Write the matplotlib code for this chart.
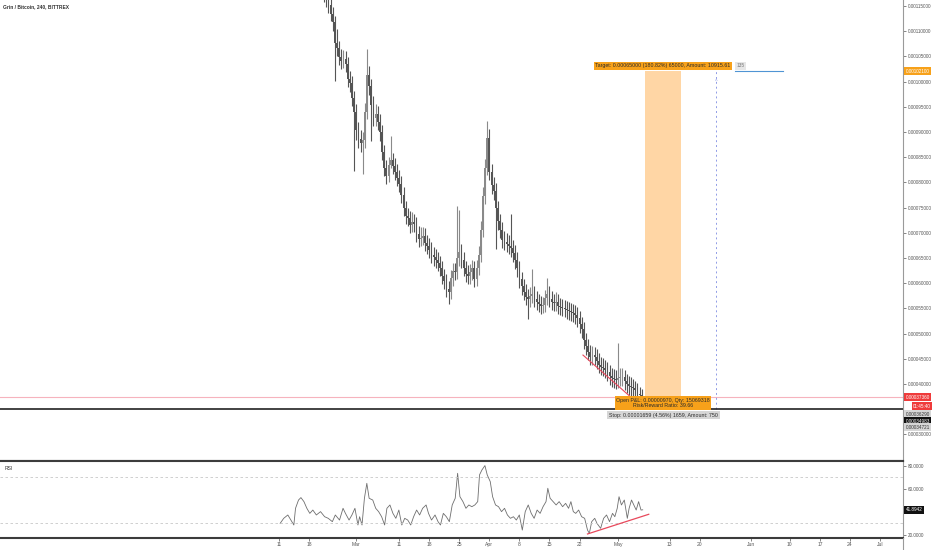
import numpy as np
import pandas as pd
import matplotlib
matplotlib.use("Agg")
import matplotlib.pyplot as plt
import matplotlib.transforms as mtrans
from matplotlib.ticker import FuncFormatter

plt.rcParams['font.family'] = ['Liberation Sans Narrow', 'Liberation Sans', 'DejaVu Sans']

base = pd.Timestamp("2019-02-11")     # jour 0 de l'axe x

# -----------------------------------------------------------------------------
# bougies 12h a partir du 21 fev 2019 (jour 10), prix en satoshis
bar_start = 10.0
bar_step = 0.5
first_open = 119500
closes = [118200, 117200, 116400, 115200, 113400, 111800, 107700, 106700, 104900, 104100,
          104500, 103500, 100500, 99700, 96700, 94000, 90400, 88600, 87800, 88400,
          94000, 101300, 99100, 95400, 92800, 93600, 92000, 90000, 86000, 82900,
          81300, 83500, 84400, 83300, 82100, 80900, 79700, 77500, 74900, 73300,
          72900, 71500, 72100, 71700, 69800, 68800, 69000, 69400, 68000, 67400,
          66600, 65600, 65200, 64600, 64000, 63000, 61400, 60400, 58900, 58300,
          61000, 62400, 62200, 65000, 66200, 64600, 63000, 61800, 61400, 62200,
          63000, 60800, 63000, 65600, 70600, 77300, 82900, 88800, 82100, 79500,
          78300, 74900, 72300, 70600, 68600, 68200, 67800, 67400, 67000, 66000,
          64600, 63000, 60800, 59400, 58300, 57300, 56900, 57500, 57900, 56900,
          56300, 55900, 55500, 55700, 57100, 57900, 56900, 56300, 56100, 56300,
          55500, 55300, 55100, 54900, 54700, 54500, 54300, 54100, 53700, 53100,
          51900, 50900, 48700, 47500, 46400, 45400, 45800, 45400, 44600, 43800,
          43400, 43200, 42800, 42400, 41600, 41200, 41000, 40800, 41200, 41400,
          41400, 40600, 40000, 39600, 39400, 39200, 38800, 38000, 37800, 37360]
highs = [120800, 119700, 118700, 117700, 116600, 114800, 113100, 110400, 108100, 106500,
         106200, 106000, 104800, 102100, 101100, 98200, 95600, 92000, 90300, 90100,
         95700, 106500, 103000, 100600, 97100, 95600, 95100, 93600, 91400, 87500,
         84400, 85100, 89200, 85900, 84800, 83600, 82400, 81200, 79000, 76400,
         75000, 74400, 74200, 73700, 73200, 71300, 71200, 71100, 70900, 69500,
         68900, 68100, 67200, 66800, 66100, 65500, 64400, 62900, 61800, 60500,
         62600, 64000, 64100, 75300, 74600, 67800, 66100, 64500, 63600, 63900,
         64600, 64400, 64600, 67300, 72300, 79000, 84600, 92200, 90500, 83700,
         81100, 79800, 76400, 73800, 72100, 70300, 69900, 69500, 73700, 68600,
         67600, 66100, 64500, 62300, 60900, 59800, 58900, 59200, 62800, 59400,
         58400, 57800, 57400, 57300, 58700, 61000, 59400, 58400, 57900, 58200,
         57800, 57000, 56800, 56700, 56400, 56200, 56000, 55800, 55600, 55200,
         54500, 53300, 52300, 50200, 49000, 47800, 47600, 47400, 46900, 46100,
         45400, 45100, 44700, 44300, 43800, 43100, 42900, 42700, 48100, 43100,
         43200, 42800, 42000, 41600, 41300, 41000, 40700, 40200, 39400, 39000]
lows = [116700, 115800, 114900, 113700, 112000, 110100, 100100, 105100, 103300, 102500,
        102600, 101900, 99000, 98000, 95100, 82200, 88500, 86800, 86000, 81700,
        86900, 92500, 97400, 88200, 91100, 91200, 90300, 88300, 84400, 81200,
        79700, 80000, 82800, 81700, 80500, 79300, 78100, 75900, 73300, 71700,
        71300, 69900, 70100, 70100, 68200, 67200, 67300, 67600, 66400, 65800,
        65000, 64000, 63500, 63000, 62400, 61400, 59800, 58800, 57300, 55900,
        56800, 59500, 60600, 60800, 63400, 63000, 61400, 60200, 59800, 59900,
        60700, 59200, 59500, 61600, 64200, 69200, 75700, 81400, 80400, 77800,
        76600, 66800, 70600, 68900, 66900, 66500, 66100, 65700, 65300, 64300,
        62900, 61300, 59100, 57700, 56600, 55600, 52900, 55200, 56000, 55200,
        54600, 54200, 53800, 54000, 54200, 55600, 55200, 54600, 54400, 54500,
        53800, 53600, 53400, 53200, 53000, 52800, 52600, 52400, 52000, 51400,
        50200, 49200, 47000, 45800, 44700, 43700, 43800, 43700, 42900, 42100,
        41700, 41500, 41100, 40700, 39900, 39500, 39300, 39100, 39300, 39700,
        39700, 38900, 38300, 37900, 37700, 37500, 37100, 36300, 36300, 36100]

# RSI (jours depuis le 11 fev)
rsi_days = [0.26, 1.09, 2.05, 2.75, 3.45, 3.84, 4.54, 5.10, 5.80, 6.48,
            7.17, 7.87, 8.69, 9.67, 10.62, 11.46, 12.42, 13.11, 14.09, 14.91,
            15.47, 16.31, 16.98, 17.68, 18.38, 18.77, 19.33, 19.89, 20.45, 20.99,
            21.83, 22.52, 23.20, 23.90, 24.60, 25.13, 25.83, 26.53, 27.21, 27.91,
            28.60, 29.28, 29.98, 30.68, 31.35, 32.05, 32.75, 33.45, 34.26, 34.82,
            35.52, 36.34, 37.04, 37.60, 38.27, 38.97, 39.67, 40.34, 41.04, 41.60,
            42.14, 42.84, 43.54, 44.21, 44.91, 45.61, 46.28, 46.70, 47.26, 47.96,
            48.50, 49.20, 49.75, 50.43, 51.13, 51.83, 52.53, 53.20, 53.90, 54.60,
            55.28, 55.97, 56.67, 57.35, 58.05, 58.75, 59.42, 60.12, 60.82, 61.50,
            62.19, 62.61, 63.15, 63.85, 64.55, 65.25, 66.06, 66.76, 67.44, 67.99,
            68.55, 69.11, 69.79, 70.49, 71.19, 71.86, 72.28, 72.84, 73.54, 74.07,
            74.91, 75.61, 76.29, 76.99, 77.68, 78.22, 78.78, 79.20, 79.76, 80.43,
            81.13, 81.55, 82.11, 82.65, 83.20, 83.76, 84.32, 84.72]
rsi_vals = [30.1, 34.5, 37.4, 33.0, 28.7, 43.2, 50.4, 52.5, 49.0, 43.2,
            38.8, 41.7, 37.4, 40.3, 35.9, 34.5, 31.6, 37.4, 33.0, 43.2,
            38.8, 33.0, 37.4, 43.2, 28.7, 35.9, 28.7, 51.9, 64.9, 51.9,
            50.4, 43.2, 40.3, 35.9, 28.7, 43.2, 46.1, 38.8, 34.5, 41.7,
            28.7, 34.5, 33.0, 28.7, 35.9, 41.7, 37.4, 43.2, 46.1, 38.8,
            33.0, 37.4, 31.6, 28.7, 38.8, 35.9, 31.6, 46.1, 51.9, 73.6,
            53.3, 49.0, 43.2, 46.1, 44.6, 46.1, 49.0, 72.2, 76.5, 80.3,
            72.2, 66.4, 53.3, 46.1, 44.6, 40.3, 43.2, 37.4, 34.5, 35.9,
            33.0, 37.4, 24.3, 40.3, 46.1, 38.8, 34.5, 41.7, 38.8, 44.6,
            49.0, 60.6, 51.9, 49.0, 46.1, 49.0, 44.6, 47.5, 43.2, 49.0,
            40.3, 38.8, 41.7, 35.9, 34.5, 24.3, 21.4, 31.6, 34.5, 30.1,
            25.8, 34.5, 37.4, 31.6, 38.8, 35.9, 43.2, 53.3, 46.1, 50.4,
            34.5, 43.2, 50.4, 46.1, 41.7, 49.0, 41.7, 41.9]

tick_dates = ["2019-02-11", "2019-02-18", "2019-03-01", "2019-03-11", "2019-03-18",
              "2019-03-25", "2019-04-01", "2019-04-08", "2019-04-15", "2019-04-22",
              "2019-05-01", "2019-05-13", "2019-05-20", "2019-06-01", "2019-06-10",
              "2019-06-17", "2019-06-24", "2019-07-01"]
tick_labels = ["11", "18", "Mar", "11", "18", "25", "Apr", "8", "15", "22",
               "May", "13", "20", "Jun", "10", "17", "24", "Jul"]

# outil "long position" + lignes dessinees
target_price = 0.00102100
last_price = 0.00037360
entry_price = 0.00036290
hline_price = 0.00034983
stop_price = 0.00034721
rsi_last = 41.8942

# -----------------------------------------------------------------------------
W, H = 932, 550
FS = 3.3          # taille des petits textes
fig = plt.figure(figsize=(W / 100, H / 100), dpi=100)
ax = fig.add_axes([0, 89 / H, 903 / W, 461 / H])
ax_rsi = fig.add_axes([0, 12 / H, 903 / W, 77 / H], sharex=ax)

# bougies
c = np.array(closes) * 1e-8
o = np.r_[first_open, closes[:-1]] * 1e-8
hi = np.array(highs) * 1e-8
lo = np.array(lows) * 1e-8
xd = bar_start + bar_step * np.arange(len(c))
col = np.where(c >= o, '#8a8a8a', '#555555')
ax.vlines(xd, lo, hi, colors=col, lw=0.8, zorder=3)
ax.bar(xd, np.maximum(np.abs(c - o), 1e-6), bottom=np.minimum(o, c), width=0.42,
       color=col, lw=0, zorder=3)

ax.set_xlim(-65.0, 145.35)
ax.set_ylim(0.0002473, 0.0011619)

# lignes horizontales
ax.axhline(last_price, color='#f6b3bd', lw=0.8, zorder=2)
ax.axhline(hline_price, color='#222222', lw=1.2, zorder=4)

# zone objectif (orange)
ax.fill_between([85.25, 93.64], entry_price, target_price, color='#ffd6a5', lw=0, zorder=1)
ax.plot([106.2, 117.4], [target_price, target_price], color='#4f94d4', lw=0.8, zorder=2)
ax.plot([101.8, 101.8], [hline_price, target_price], color='#8f9be6', lw=0.7,
        ls=(0, (2, 3)), zorder=2)
ax.text(101.8, 0.00100, '^', color='#8f9be6', fontsize=4, ha='center', va='center')

# ligne de tendance rouge
ax.plot([70.8, 82.2], [0.0004575, 0.0003722], color='#e8495c', lw=0.8, zorder=4)

# etiquettes de l'outil de position
ax.text(73.6, 0.001031, 'Target: 0.00065000 (180.82%) 65000, Amount: 10915.61',
        fontsize=3.8, color='#2a2a2a', ha='left', va='center', zorder=6,
        bbox=dict(boxstyle='square,pad=0.25', fc='#f7a11a', ec='none'))
ax.text(106.6, 0.001031, '135', fontsize=3.4, color='#777777', ha='left', va='center',
        zorder=6, bbox=dict(boxstyle='square,pad=0.25', fc='#e6e6e6', ec='none'))
ax.text(89.45, 0.0003623, 'Open P&L: 0.00000970, Qty: 15069318\nRisk/Reward Ratio: 39.66',
        fontsize=3.8, color='#2a2a2a', ha='center', va='center', linespacing=1.0,
        zorder=6, bbox=dict(boxstyle='square,pad=0.3', fc='#f7a11a', ec='none'))
ax.text(89.56, 0.0003385, 'Stop: 0.00001659 (4.56%) 1659, Amount: 750',
        fontsize=3.8, color='#2a2a2a', ha='center', va='center', zorder=6,
        bbox=dict(boxstyle='square,pad=0.3', fc='#d6d6d6', ec='none'))

# axe des prix a droite
price_ticks = [0.00030] + list(np.arange(40, 116, 5) * 1e-5)
ax.yaxis.tick_right()
ax.set_yticks(price_ticks)
ax.yaxis.set_major_formatter(FuncFormatter(lambda v, p: f"{v:.8f}"))
ax.tick_params(axis='y', direction='out', length=2, width=0.5, colors='#555555',
               labelsize=FS, pad=1.2)
ax.tick_params(axis='x', bottom=False, labelbottom=False)
for s in ['top', 'left']:
    ax.spines[s].set_visible(False)
ax.spines['right'].set_color('#9a9a9a')
ax.spines['right'].set_linewidth(0.8)
ax.spines['bottom'].set_color('#3c3c3c')
ax.spines['bottom'].set_linewidth(1.5)

# etiquettes colorees sur l'axe
trp = mtrans.blended_transform_factory(ax.transAxes, ax.transData)
def axis_tag(a, tr, y, txt, fc, tc, x=1.003):
    a.text(x, y, txt, transform=tr, fontsize=FS, color=tc, ha='left', va='center',
           zorder=10, clip_on=False,
           bbox=dict(boxstyle='square,pad=0.3', fc=fc, ec='none'))

axis_tag(ax, trp, target_price, f"{target_price:.8f}", '#f7a11a', 'white')
axis_tag(ax, trp, last_price, f"{last_price:.8f}", '#ef3b3b', 'white')
axis_tag(ax, trp, 0.0003564, '01:45:40', '#ef3b3b', 'white', x=1.011)
axis_tag(ax, trp, 0.0003405, f"{entry_price:.8f}", '#d6d6d6', '#333333')
axis_tag(ax, trp, 0.0003266, f"{hline_price:.8f}", '#111111', 'white')
axis_tag(ax, trp, 0.0003147, f"{stop_price:.8f}", '#d6d6d6', '#333333')

# -----------------------------------------------------------------------------
# RSI
ax_rsi.plot(rsi_days, rsi_vals, color='#6e6e6e', lw=0.6)
ax_rsi.axhline(70, color='#c8c8c8', lw=0.6, ls=(0, (3, 3)))
ax_rsi.axhline(30, color='#c8c8c8', lw=0.6, ls=(0, (3, 3)))
ax_rsi.plot([71.86, 86.12], [20.9, 38.0], color='#e8495c', lw=0.9)
ax_rsi.set_ylim(17.4, 84.3)
ax_rsi.yaxis.tick_right()
ax_rsi.set_yticks([20, 60, 80])
ax_rsi.yaxis.set_major_formatter(FuncFormatter(lambda v, p: f"{v:.4f}"))
ax_rsi.tick_params(axis='y', direction='out', length=2, width=0.5, colors='#555555',
                   labelsize=FS, pad=1.2)
tick_x = [(pd.Timestamp(t) - base).days for t in tick_dates]
ax_rsi.set_xticks(tick_x)
ax_rsi.set_xticklabels(tick_labels)
ax_rsi.tick_params(axis='x', direction='out', length=2, width=0.5, colors='#555555',
                   labelsize=3.6, pad=1)
ax_rsi.spines['left'].set_visible(False)
ax_rsi.spines['right'].set_color('#9a9a9a')
ax_rsi.spines['right'].set_linewidth(0.8)
for s in ['top', 'bottom']:
    ax_rsi.spines[s].set_color('#3c3c3c')
    ax_rsi.spines[s].set_linewidth(1.5)

trr = mtrans.blended_transform_factory(ax_rsi.transAxes, ax_rsi.transData)
axis_tag(ax_rsi, trr, rsi_last, f"{rsi_last:.4f}", '#111111', 'white')

fig.text(5 / W, 1 - 468 / H, 'RSI', fontsize=3.6, color='#333333', va='center')
fig.text(3 / W, 1 - 7 / H, 'Grin / Bitcoin, 240, BITTREX', fontsize=3.5,
         fontweight='bold', color='#333333', va='center')
# prolongation de l'axe vertical jusqu'en bas
fig.add_artist(plt.Line2D([903 / W, 903 / W], [0, 12 / H], color='#9a9a9a', lw=0.8))

fig.savefig('out.png', dpi=100)
